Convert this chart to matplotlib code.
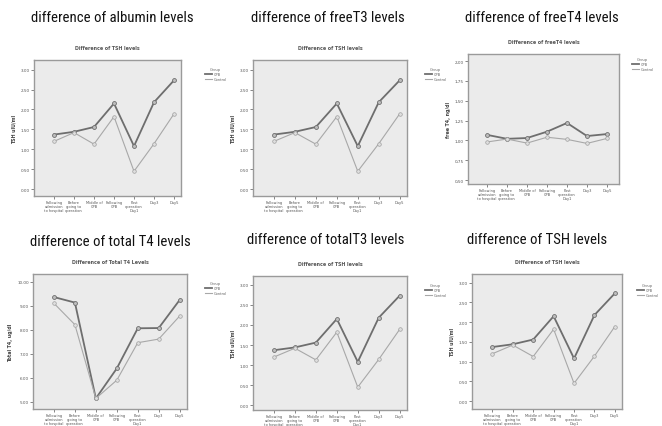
import matplotlib
matplotlib.use("Agg")
import matplotlib.pyplot as plt
from matplotlib import font_manager
from matplotlib.ticker import FuncFormatter

# categories on the x axis (same for every panel)
cats = ["Following\nadmission\nto hospital", "Before\ngoing to\noperation", "Middle of\nCPB",
        "Following\nCPB", "Post\noperation\nDay1", "Day3", "Day5"]
groups = ["CPB", "Control"]

# TSH (uIU/ml) - the same chart was pasted into several panels
tsh_cpb = [1.37, 1.44, 1.56, 2.15, 1.08, 2.18, 2.73]
tsh_ctrl = [1.20, 1.42, 1.13, 1.82, 0.45, 1.14, 1.89]

# free T4 (ng/dl)
ft4_cpb = [1.07, 1.02, 1.03, 1.11, 1.22, 1.055, 1.08]
ft4_ctrl = [0.98, 1.017, 0.966, 1.04, 1.013, 0.962, 1.025]

# total T4 (ug/dl)
tt4_cpb = [9.36, 9.13, 5.14, 6.39, 8.06, 8.07, 9.24]
tt4_ctrl = [9.10, 8.21, 5.14, 5.90, 7.46, 7.61, 8.57]

W, H = 662, 427
fig = plt.figure(figsize=(W / 100, H / 100), dpi=100)
fig.patch.set_facecolor("white")

# condensed face for the big titles, if one is there
installed = {f.name for f in font_manager.fontManager.ttflist}
narrow = [n for n in ["Liberation Sans Narrow", "DejaVu Sans Condensed", "Roboto Condensed"]
          if n in installed]
if narrow:
    title_font = [narrow[0], "DejaVu Sans"]
    title_size = 10.6
else:
    title_font = ["Liberation Sans", "DejaVu Sans"]
    title_size = 9.5


def panel(rect, big_title, title_xy, sub_title, ylabel, ylim, xlim, yticks,
          s1, s2, comma=False, leg_xy=None):
    x0, y0, x1, y1 = rect
    ax = fig.add_axes([x0 / W, 1 - y1 / H, (x1 - x0) / W, (y1 - y0) / H])
    ax.set_facecolor("#ebebeb")
    xs = range(len(cats))
    ax.plot(xs, s1, color="#6e6e6e", lw=1.3, marker="o", ms=2.8,
            mfc="#bdbdbd", mec="#6e6e6e", mew=0.6, label=groups[0])
    ax.plot(xs, s2, color="#a8a8a8", lw=0.8, marker="o", ms=2.6,
            mfc="#dedede", mec="#a0a0a0", mew=0.5, label=groups[1])
    ax.set_xlim(*xlim)
    ax.set_ylim(*ylim)
    ax.set_yticks(yticks)
    if comma:
        ax.yaxis.set_major_formatter(FuncFormatter(lambda v, p: f"{v:.2f}".replace(".", ",")))
    else:
        ax.yaxis.set_major_formatter(FuncFormatter(lambda v, p: f"{v:.2f}"))
    ax.set_xticks(list(xs))
    ax.set_xticklabels(cats, fontsize=2.6, color="#555555", linespacing=0.9)
    ax.tick_params(axis="y", labelsize=3, colors="#555555", length=2, width=0.5, pad=1)
    ax.tick_params(axis="x", length=2, width=0.5, pad=1, colors="#555555")
    for s in ax.spines.values():
        s.set_color("#9a9a9a")
        s.set_linewidth(1.0)
    ax.set_ylabel(ylabel, fontsize=3.4, fontweight="bold", color="#444444", labelpad=3)
    ax.set_title(sub_title, fontsize=3.4, fontweight="bold", color="#555555", pad=8)
    fig.text(title_xy[0] / W, 1 - title_xy[1] / H, big_title, fontsize=title_size,
             family=title_font, ha="center", va="center", color="#111111")
    if leg_xy is not None:
        leg = ax.legend(title="Group", loc="upper left", fontsize=2.6, title_fontsize=2.6,
                        bbox_to_anchor=(leg_xy[0] / W, 1 - leg_xy[1] / H),
                        bbox_transform=fig.transFigure, frameon=False,
                        handlelength=2.0, markerscale=0, labelspacing=0.3,
                        borderpad=0, handletextpad=0.4)
        for t in leg.get_texts():
            t.set_color("#666666")
        leg.get_title().set_color("#666666")
    return ax


tsh_ticks = [0, 0.5, 1.0, 1.5, 2.0, 2.5, 3.0]

panel((34, 61, 181, 197), "difference of albumin levels", (112, 18),
      "Difference of TSH levels", "TSH uIU/ml", (-0.17, 3.24), (-1.0, 6.35),
      tsh_ticks, tsh_cpb, tsh_ctrl, leg_xy=(203, 66))
panel((253, 61, 407, 197), "difference of freeT3 levels", (328, 18),
      "Difference of TSH levels", "TSH uIU/ml", (-0.17, 3.24), (-1.0, 6.35),
      tsh_ticks, tsh_cpb, tsh_ctrl, leg_xy=(423, 66))
panel((468, 55, 619, 185), "difference of freeT4 levels", (542, 18),
      "Difference of freeT4 levels", "free T4, ng/dl", (0.45, 2.09), (-0.95, 6.6),
      [0.5, 0.75, 1.0, 1.25, 1.5, 1.75, 2.0], ft4_cpb, ft4_ctrl, comma=True,
      leg_xy=(630, 56))
panel((33, 275, 187, 410), "difference of total T4 levels", (110, 242),
      "Difference of Total T4 Levels", "Total T4, ug/dl", (4.70, 10.32), (-1.0, 6.35),
      [5, 6, 7, 8, 9, 10], tt4_cpb, tt4_ctrl, leg_xy=(203, 280))
panel((253, 277, 407, 411), "difference of totalT3 levels", (326, 240),
      "Difference of TSH levels", "TSH uIU/ml", (-0.12, 3.22), (-1.0, 6.35),
      tsh_ticks, tsh_cpb, tsh_ctrl, leg_xy=(423, 282))
panel((472, 275, 622, 410), "difference of TSH levels", (537, 240),
      "Difference of TSH levels", "TSH uIU/ml", (-0.2, 3.22), (-1.0, 6.35),
      tsh_ticks, tsh_cpb, tsh_ctrl, leg_xy=(635, 282))

fig.savefig("out.png", dpi=100)
